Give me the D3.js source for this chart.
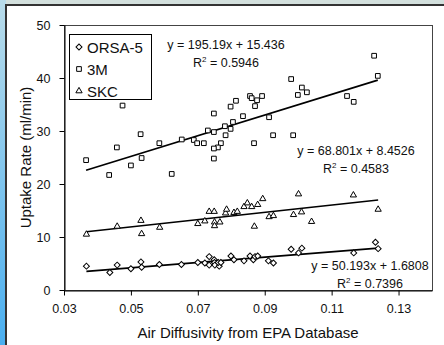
<!DOCTYPE html>
<html>
<head>
<meta charset="utf-8">
<script src="https://cdn.jsdelivr.net/npm/d3@7"></script>
<style>
	html, body { margin: 0; padding: 0; background: #d3e0dd; overflow: hidden; }
	svg { display: block; font-family: Arial, "Liberation Sans", sans-serif; }
</style>
</head>
<body>
<div id="main-view"></div>
<script>
// values
var seriesNames = ["ORSA-5", "3M", "SKC"];

var orsaX = [0.0367, 0.0437, 0.0459, 0.0500, 0.0530, 0.0532, 0.0585, 0.0651, 0.0700, 0.0721, 0.0734,
	0.0734, 0.0749, 0.0750, 0.0751, 0.0764, 0.0761, 0.0769, 0.0799, 0.0808, 0.0838, 0.0856, 0.0866,
	0.0871, 0.0879, 0.0911, 0.0926, 0.0979, 0.1001, 0.1011, 0.1166, 0.1231, 0.1239];
var orsaY = [4.5, 3.3, 4.7, 4.0, 5.3, 4.3, 4.8, 4.8, 5.2, 5.1, 6.3,
	4.7, 5.7, 5.2, 4.7, 4.5, 5.2, 5.2, 6.4, 5.7, 5.5, 6.4, 5.7,
	6.3, 6.4, 5.5, 5.1, 7.7, 7.0, 7.9, 7.0, 9.0, 7.8];

var mmmX = [0.0366, 0.0458, 0.0475, 0.0529, 0.0532, 0.0500, 0.0585, 0.0652, 0.0435, 0.0622, 0.0979,
	0.1011, 0.1026, 0.0999, 0.0856, 0.0861, 0.0877, 0.0892, 0.0871, 0.0814, 0.0798, 0.0748, 0.0835,
	0.0913, 0.0805, 0.0781, 0.0798, 0.0730, 0.0748, 0.0783, 0.0688, 0.0698, 0.0718, 0.0769, 0.0760,
	0.0748, 0.0868, 0.0925, 0.0985, 0.0748, 0.1227, 0.1238, 0.1146, 0.1166];
var mmmY = [24.5, 26.9, 34.8, 29.4, 24.9, 23.5, 27.7, 28.4, 21.7, 21.9, 39.8,
	38.2, 37.3, 36.8, 36.6, 36.2, 35.8, 36.6, 34.7, 35.7, 34.6, 33.3, 32.8,
	32.6, 31.7, 30.9, 30.4, 30.1, 29.8, 29.2, 28.3, 27.7, 27.7, 27.7, 26.9,
	26.7, 27.7, 29.2, 29.2, 24.8, 44.2, 40.4, 36.6, 35.5];

var skcX = [0.0367, 0.0459, 0.0530, 0.0532, 0.0586, 0.0700, 0.0721, 0.0734, 0.0749, 0.0750, 0.0750,
	0.0766, 0.0783, 0.0786, 0.0808, 0.0818, 0.0838, 0.0848, 0.0861, 0.0879, 0.0894, 0.0869, 0.0913,
	0.0926, 0.1001, 0.0986, 0.1010, 0.1040, 0.1165, 0.1239];
var skcY = [10.5, 12.0, 13.1, 10.6, 11.8, 12.5, 13.0, 14.8, 14.8, 12.8, 12.1,
	12.8, 14.5, 15.2, 14.6, 14.8, 15.7, 16.4, 15.7, 16.1, 17.2, 12.0, 13.8,
	14.0, 18.1, 14.2, 14.7, 12.9, 17.9, 15.2];

// trend lines from the equations printed on the chart
var slopes = [50.193, 195.19, 68.801];
var intercepts = [1.6808, 15.436, 8.4526];
var rSquared = ["0.7396", "0.5946", "0.4583"];

var xTicks = [0.03, 0.05, 0.07, 0.09, 0.11, 0.13];
var yTicks = [0, 10, 20, 30, 40, 50];
var xDomain = [0.03, 0.14];
var yDomain = [0, 50];

var xTitle = "Air Diffusivity from EPA Database";
var yTitle = "Uptake Rate (ml/min)";

function ScatterView() {
	var self = this;
	self.create = createChart;

	var width = 444,
		height = 345;
	var plot = { left: 64, top: 25, right: 432, bottom: 290 };

	var font = 'Arial, "Liberation Sans", sans-serif';

	function createChart() {
		var svg = d3.select("#main-view").append("svg")
			.attr("width", width)
			.attr("height", height);

		var defs = svg.append("defs");
		var grad = defs.append("linearGradient")
			.attr("id", "side-grad")
			.attr("x1", 0).attr("y1", 0)
			.attr("x2", 0).attr("y2", 1);
		grad.append("stop").attr("offset", "0%").attr("stop-color", "#b9dcea");
		grad.append("stop").attr("offset", "100%").attr("stop-color", "#4aaff0");

		// frame around the chart
		svg.append("rect")
			.attr("x", 0).attr("y", 0)
			.attr("width", width).attr("height", height)
			.attr("fill", "#d3e0dd");
		svg.append("rect")
			.attr("x", 0).attr("y", 0)
			.attr("width", 6).attr("height", height)
			.attr("fill", "url(#side-grad)");
		svg.append("rect")
			.attr("x", 6).attr("y", 5)
			.attr("width", width + 10).attr("height", height + 10)
			.attr("fill", "white")
			.attr("stroke", "#333")
			.attr("stroke-width", 2);

		var x = d3.scaleLinear().domain(xDomain).range([plot.left, plot.right]);
		var y = d3.scaleLinear().domain(yDomain).range([plot.bottom, plot.top]);

		// plot area border
		svg.append("rect")
			.attr("x", plot.left + 0.5).attr("y", plot.top + 0.5)
			.attr("width", plot.right - plot.left).attr("height", plot.bottom - plot.top)
			.attr("fill", "none")
			.attr("stroke", "#444")
			.attr("stroke-width", 1);

		var xAxis = svg.append("g")
			.attr("transform", "translate(0," + (plot.bottom + 0.5) + ")")
			.call(d3.axisBottom(x)
				.tickValues(xTicks)
				.tickFormat(d3.format(".2f"))
				.tickSize(5)
				.tickSizeOuter(0)
				.tickPadding(9));
		var yAxis = svg.append("g")
			.attr("transform", "translate(" + (plot.left + 0.5) + ",0)")
			.call(d3.axisLeft(y)
				.tickValues(yTicks)
				.tickSize(5)
				.tickSizeOuter(0)
				.tickPadding(9));

		[xAxis, yAxis].forEach(function(a) {
			a.select(".domain").attr("stroke", "black");
			a.selectAll(".tick line").attr("stroke", "black");
			a.selectAll("text")
				.attr("fill", "#111")
				.style("font-size", "12.5px")
				.style("font-family", font);
		});

		svg.append("text")
			.attr("x", (plot.left + plot.right) / 2)
			.attr("y", 338)
			.attr("text-anchor", "middle")
			.style("font-size", "15px")
			.attr("fill", "#111")
			.text(xTitle);

		svg.append("text")
			.attr("transform", "translate(31," + ((plot.top + plot.bottom) / 2) + ") rotate(-90)")
			.attr("text-anchor", "middle")
			.style("font-size", "15px")
			.attr("fill", "#111")
			.text(yTitle);

		var series = [
			{ name: seriesNames[0], xs: orsaX, ys: orsaY, symbol: d3.symbolSquare, size: 18, rotate: 45 },
			{ name: seriesNames[1], xs: mmmX, ys: mmmY, symbol: d3.symbolSquare, size: 22, rotate: 0 },
			{ name: seriesNames[2], xs: skcX, ys: skcY, symbol: d3.symbolTriangle, size: 17, rotate: 0 }
		];

		// trend lines
		series.forEach(function(s, i) {
			var ext = d3.extent(s.xs);
			svg.append("line")
				.attr("x1", x(ext[0]))
				.attr("y1", y(slopes[i] * ext[0] + intercepts[i]))
				.attr("x2", x(ext[1]))
				.attr("y2", y(slopes[i] * ext[1] + intercepts[i]))
				.attr("stroke", "black")
				.attr("stroke-width", 1.6);
		});

		// points
		series.forEach(function(s) {
			var pts = s.xs.map(function(v, j) {
				return { x: v, y: s.ys[j] };
			});
			svg.append("g").selectAll("path")
				.data(pts)
				.enter().append("path")
				.attr("d", d3.symbol().type(s.symbol).size(s.size))
				.attr("transform", function(d) {
					return "translate(" + x(d.x) + "," + y(d.y) + ") rotate(" + s.rotate + ")";
				})
				.attr("fill", "white")
				.attr("stroke", "black")
				.attr("stroke-width", 1);
		});

		// equation labels
		var labelPos = [
			{ cx: 370, y: 270 },
			{ cx: 226, y: 49 },
			{ cx: 356, y: 155 }
		];
		series.forEach(function(s, i) {
			var g = svg.append("g")
				.style("font-size", "12.5px")
				.attr("fill", "#111")
				.attr("text-anchor", "middle");
			g.append("text")
				.attr("x", labelPos[i].cx)
				.attr("y", labelPos[i].y)
				.text("y = " + slopes[i] + "x + " + intercepts[i]);
			var r = g.append("text")
				.attr("x", labelPos[i].cx)
				.attr("y", labelPos[i].y + 18);
			r.append("tspan").text("R");
			r.append("tspan").attr("dy", -5).style("font-size", "8px").text("2");
			r.append("tspan").attr("dy", 5).text(" = " + rSquared[i]);
		});

		// legend
		var legend = svg.append("g");
		legend.append("rect")
			.attr("x", 69.5).attr("y", 34.5)
			.attr("width", 82).attr("height", 65)
			.attr("fill", "white")
			.attr("stroke", "black")
			.attr("stroke-width", 1);
		series.forEach(function(s, i) {
			var cy = 47 + i * 22;
			legend.append("path")
				.attr("d", d3.symbol().type(s.symbol).size(s.size))
				.attr("transform", "translate(79," + cy + ") rotate(" + s.rotate + ")")
				.attr("fill", "white")
				.attr("stroke", "black");
			legend.append("text")
				.attr("x", 87)
				.attr("y", cy + 5.5)
				.style("font-size", "15px")
				.attr("fill", "#111")
				.text(s.name);
		});
	}
}

var view = new ScatterView();
view.create();
</script>
</body>
</html>
